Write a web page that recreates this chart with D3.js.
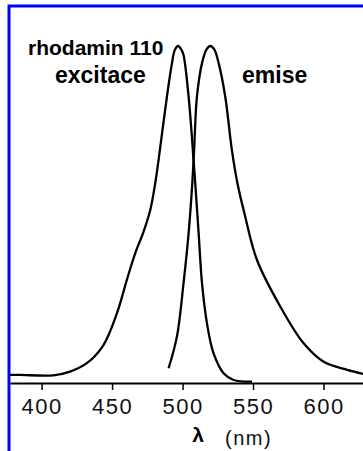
<!DOCTYPE html>
<html>
<head>
<meta charset="utf-8">
<script src="https://cdnjs.cloudflare.com/ajax/libs/d3/7.8.5/d3.min.js"></script>
<style>
  body { margin: 0; background: #fff; }
  svg { display: block; }
</style>
</head>
<body>
<div id="chart"></div>
<script>
// spectra (wavelength nm, normalised intensity)
let excNm = [377.6, 384.7, 408.4, 420.2, 432.1, 443.9, 453.4, 460.5, 466.4, 472.3, 477.1, 480.6, 483.0, 488.9, 492.5, 494.5, 496.8, 499.3, 500.7, 504.3, 507.8, 509.0, 511.4, 513.8, 517.3, 522.0, 529.1, 536.2, 549.3]
let excVal = [0.021, 0.021, 0.020, 0.031, 0.056, 0.110, 0.204, 0.304, 0.383, 0.447, 0.512, 0.591, 0.661, 0.849, 0.949, 0.988, 1.0, 0.988, 0.973, 0.849, 0.661, 0.591, 0.443, 0.294, 0.175, 0.085, 0.026, 0.006, 0.001]

let emNm = [490.1, 496.0, 500.7, 504.3, 506.9, 508.2, 510.2, 513.8, 517.0, 519.7, 522.5, 525.6, 530.3, 535.0, 539.0, 544.0, 552.8, 569.4, 585.9, 600.1, 616.8, 628.3]
let emVal = [0.041, 0.135, 0.294, 0.443, 0.591, 0.690, 0.849, 0.949, 0.99, 1.0, 0.99, 0.949, 0.849, 0.690, 0.590, 0.500, 0.363, 0.224, 0.115, 0.060, 0.036, 0.024]

let tickVals = [400, 450, 500, 550, 600]
let labels = ['rhodamin 110', 'excitace', 'emise']

let W = 363, H = 451

let svg = d3.select('#chart').append('svg')
	.attr('width', W)
	.attr('height', H)

let x = d3.scaleLinear().domain([377.6, 628]).range([10, 363])
let y = d3.scaleLinear().domain([0, 1]).range([382, 46])

// blue frame (only top + left visible)
svg.append('rect')
	.attr('x', 9).attr('y', 6)
	.attr('width', 400).attr('height', 500)
	.attr('fill', 'none')
	.attr('stroke', '#0000ff')
	.attr('stroke-width', 3)

let xAxis = d3.axisBottom(x)
	.tickValues(tickVals)
	.tickSize(7)
	.tickSizeOuter(0)
	.tickPadding(8)

let gx = svg.append('g')
	.attr('transform', 'translate(0,383)')
	.call(xAxis)

gx.select('.domain').attr('stroke', '#000').attr('stroke-width', 2)
gx.selectAll('.tick line').attr('stroke', '#000').attr('stroke-width', 1.5)
gx.selectAll('.tick text')
	.attr('font-family', 'Liberation Sans, Arial, sans-serif')
	.attr('font-size', 22)
	.attr('letter-spacing', 1.5)
	.attr('fill', '#111')
	.attr('dy', null)
	.attr('y', 31)

let line = d3.line()
	.x(d => x(d[0]))
	.y(d => y(d[1]))
	.curve(d3.curveCatmullRom)

let exc = excNm.map((d, i) => [d, excVal[i]])
let em = emNm.map((d, i) => [d, emVal[i]])

svg.selectAll('path.spec')
	.data([exc, em])
	.enter()
	.append('path')
	.attr('class', 'spec')
	.attr('d', line)
	.attr('fill', 'none')
	.attr('stroke', '#000')
	.attr('stroke-width', 2.3)

// labels
svg.append('text')
	.attr('x', 28).attr('y', 55)
	.attr('font-family', 'Liberation Sans, Arial, sans-serif')
	.attr('font-weight', 'bold')
	.attr('font-size', 21)
	.text(labels[0])

svg.append('text')
	.attr('x', 55).attr('y', 83)
	.attr('font-family', 'Liberation Sans, Arial, sans-serif')
	.attr('font-weight', 'bold')
	.attr('font-size', 23)
	.text(labels[1])

svg.append('text')
	.attr('x', 242).attr('y', 83)
	.attr('font-family', 'Liberation Sans, Arial, sans-serif')
	.attr('font-weight', 'bold')
	.attr('font-size', 23)
	.text(labels[2])

// axis title
svg.append('text')
	.attr('x', 198).attr('y', 442)
	.attr('text-anchor', 'middle')
	.attr('font-family', 'Liberation Sans, Arial, sans-serif')
	.attr('font-weight', 'bold')
	.attr('font-size', 21)
	.text('λ')

svg.append('text')
	.attr('x', 225).attr('y', 445)
	.attr('font-family', 'Liberation Sans, Arial, sans-serif')
	.attr('font-size', 20)
	.attr('letter-spacing', 1.5)
	.attr('fill', '#111')
	.text('(nm)')
</script>
</body>
</html>
